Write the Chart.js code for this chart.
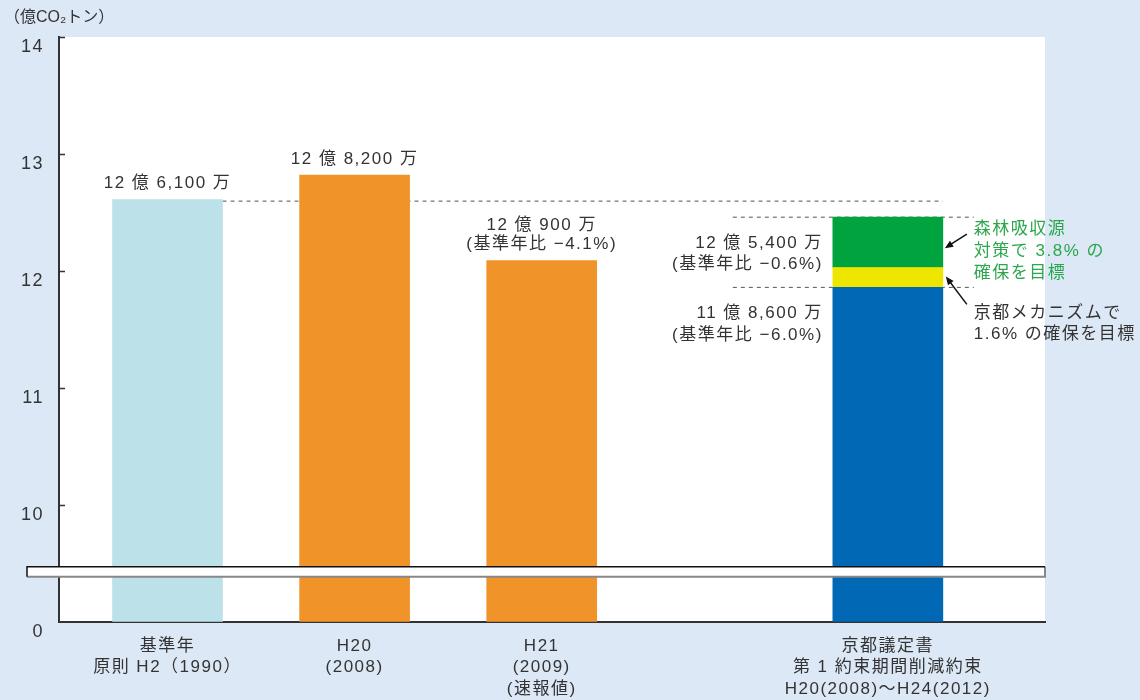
<!DOCTYPE html>
<html lang="ja">
<head>
<meta charset="utf-8">
<script src="https://cdn.jsdelivr.net/npm/chart.js@4.4.1/dist/chart.umd.min.js"></script>
<style>
    html, body { margin: 0; padding: 0; background: #dde8f6; }
    #wrap { width: 1140px; height: 700px; position: relative; }
</style>
</head>
<body>
<div id="wrap"><canvas id="co2-canvas"></canvas></div>
<script>
// data (億 CO2 トン)
const categories = [
    ["基準年", "原則 H2（1990）"],
    ["H20", "(2008)"],
    ["H21", "(2009)", "(速報値)"],
    ["京都議定書", "第 1 約束期間削減約束", "H20(2008)〜H24(2012)"]
];
const barPositions   = [1, 2, 3, 4.85];
const emissions      = [12.61, 12.82, 12.09, 11.86];
const mechanismShare = [null, null, null, 0.17];
const forestShare    = [null, null, null, 0.43];
const yTickValues    = [0, 10, 11, 12, 13, 14];
const barLabels      = [["12 億 6,100 万"], ["12 億 8,200 万"], ["12 億 900 万", "(基準年比 −4.1%)"]];
const targetLabel    = ["12 億 5,400 万", "(基準年比 −0.6%)"];
const kyotoLabel     = ["11 億 8,600 万", "(基準年比 −6.0%)"];
const forestNote     = ["森林吸収源", "対策で 3.8% の", "確保を目標"];
const mechanismNote  = ["京都メカニズムで", "1.6% の確保を目標"];
const unitLabel      = "（億CO₂トン）";

const FONT = "'Liberation Sans', 'Noto Sans CJK JP', sans-serif";
const TEXT = "#333333";
const SPACING = "1.5px";
const barColors = ["#bde1e8", "#f0942a", "#f0942a", "#0068b4"];

// axis is broken between 0 and 10: 0-10 squeezed into one unit
function squeeze(v) {
    if (v === null) return null;
    return v >= 10 ? v - 9 : v / 10;
}

const toPoints = (arr, fn) => barPositions.map((x, i) => ({ x: x, y: arr[i] === null ? null : fn(arr[i]) }));

// wider tracking like the original typesetting
const tracking = {
    id: "tracking",
    beforeLayout(chart) { chart.ctx.letterSpacing = SPACING; },
    beforeDraw(chart) { chart.ctx.letterSpacing = SPACING; }
};

const decorations = {
    id: "decorations",
    beforeDatasetsDraw(chart) {
        const ctx = chart.ctx;
        const xs = chart.scales.x, ys = chart.scales.y;
        const half = 55;
        const baseX = xs.getPixelForValue(barPositions[0]);
        const kyX = xs.getPixelForValue(barPositions[3]);
        const baseY = ys.getPixelForValue(squeeze(emissions[0]));
        const blueTop = ys.getPixelForValue(squeeze(emissions[3]));
        const greenTop = ys.getPixelForValue(squeeze(emissions[3]) + mechanismShare[3] + forestShare[3]);

        ctx.save();
        ctx.strokeStyle = "#555";
        ctx.lineWidth = 1;
        ctx.setLineDash([4, 4]);
        ctx.beginPath();
        ctx.moveTo(baseX + half, baseY + 1.5); ctx.lineTo(kyX + half, baseY + 1.5);
        ctx.moveTo(kyX - half - 100, greenTop); ctx.lineTo(kyX + half + 31, greenTop);
        ctx.moveTo(kyX - half - 100, blueTop); ctx.lineTo(kyX + half + 31, blueTop);
        ctx.stroke();
        ctx.restore();
    },
    afterDraw(chart) {
        const ctx = chart.ctx;
        const xs = chart.scales.x, ys = chart.scales.y;
        const area = chart.chartArea;
        const half = 55;

        ctx.save();
        // inner tick marks
        ctx.strokeStyle = "#333";
        ctx.lineWidth = 1.5;
        ctx.beginPath();
        yTickValues.slice(1).forEach(v => {
            const y = Math.round(ys.getPixelForValue(squeeze(v))) + 0.5;
            ctx.moveTo(area.left, y); ctx.lineTo(area.left + 6, y);
        });
        ctx.stroke();

        // axis break band
        const by = ys.getPixelForValue(0.43);
        ctx.fillStyle = "#ffffff";
        ctx.fillRect(area.left - 32, by - 5, area.right - area.left + 32, 10);
        ctx.strokeStyle = "#888";
        ctx.lineWidth = 2;
        ctx.beginPath();
        ctx.moveTo(area.left - 32, by + 5); ctx.lineTo(area.right, by + 5); ctx.lineTo(area.right, by - 5);
        ctx.stroke();
        ctx.strokeStyle = "#111";
        ctx.lineWidth = 1.5;
        ctx.beginPath();
        ctx.moveTo(area.left - 32, by + 5); ctx.lineTo(area.left - 32, by - 5); ctx.lineTo(area.right, by - 5);
        ctx.stroke();

        // value labels over bars
        ctx.font = "17px " + FONT;
        ctx.letterSpacing = SPACING;
        ctx.fillStyle = TEXT;
        ctx.textBaseline = "middle";
        ctx.textAlign = "center";
        barLabels.forEach((lines, i) => {
            const x = xs.getPixelForValue(barPositions[i]);
            const top = ys.getPixelForValue(squeeze(emissions[i]));
            lines.forEach((t, j) => {
                ctx.fillText(t, x, top - 16 - (lines.length - 1 - j) * 19);
            });
        });

        // kyoto side labels
        const kyX = xs.getPixelForValue(barPositions[3]);
        const blueTop = ys.getPixelForValue(squeeze(emissions[3]));
        const yellowTop = ys.getPixelForValue(squeeze(emissions[3]) + mechanismShare[3]);
        const greenTop = ys.getPixelForValue(squeeze(emissions[3]) + mechanismShare[3] + forestShare[3]);
        ctx.textAlign = "right";
        targetLabel.forEach((t, j) => ctx.fillText(t, kyX - half - 10, greenTop + 26 + j * 21));
        kyotoLabel.forEach((t, j) => ctx.fillText(t, kyX - half - 10, blueTop + 26 + j * 22));

        ctx.textAlign = "left";
        ctx.fillStyle = "#2aa74b";
        forestNote.forEach((t, j) => ctx.fillText(t, kyX + half + 31, greenTop + 12 + j * 22));
        ctx.fillStyle = TEXT;
        mechanismNote.forEach((t, j) => ctx.fillText(t, kyX + half + 31, blueTop + 26 + j * 21));

        // arrows
        function arrow(x1, y1, x2, y2) {
            const a = Math.atan2(y2 - y1, x2 - x1);
            ctx.strokeStyle = "#111";
            ctx.fillStyle = "#111";
            ctx.lineWidth = 1.5;
            ctx.beginPath();
            ctx.moveTo(x1, y1); ctx.lineTo(x2 - 6 * Math.cos(a), y2 - 6 * Math.sin(a));
            ctx.stroke();
            ctx.beginPath();
            ctx.moveTo(x2, y2);
            ctx.lineTo(x2 - 9 * Math.cos(a - 0.4), y2 - 9 * Math.sin(a - 0.4));
            ctx.lineTo(x2 - 9 * Math.cos(a + 0.4), y2 - 9 * Math.sin(a + 0.4));
            ctx.closePath();
            ctx.fill();
        }
        arrow(kyX + half + 24, greenTop + 17, kyX + half + 2, greenTop + 31);
        arrow(kyX + half + 24, blueTop + 17, kyX + half + 3, (yellowTop + blueTop) / 2 - 1);

        // unit
        ctx.font = "16px " + FONT;
        ctx.letterSpacing = "0px";
        ctx.fillStyle = TEXT;
        ctx.fillText(unitLabel, 4, 18);
        ctx.restore();
    }
};

const plotBackground = {
    id: "plotBackground",
    beforeDraw(chart) {
        const a = chart.chartArea;
        chart.ctx.save();
        chart.ctx.fillStyle = "#ffffff";
        chart.ctx.fillRect(a.left, a.top, a.right - a.left, a.bottom - a.top);
        chart.ctx.restore();
    }
};

const ctx = document.getElementById("co2-canvas").getContext("2d");
const co2_chart = new Chart(ctx, {
    type: "bar",
    data: {
        datasets: [
            {
                label: "排出量",
                data: toPoints(emissions, squeeze),
                backgroundColor: barColors,
                stack: "s"
            },
            {
                label: "京都メカニズム",
                data: toPoints(mechanismShare, v => v),
                backgroundColor: "#eee600",
                stack: "s"
            },
            {
                label: "森林吸収源対策",
                data: toPoints(forestShare, v => v),
                backgroundColor: "#00a33e",
                stack: "s"
            }
        ]
    },
    options: {
        responsive: true,
        maintainAspectRatio: false,
        animation: false,
        barThickness: 110,
        layout: { padding: { left: 0, top: 37, right: 95, bottom: 0 } },
        plugins: {
            legend: { display: false },
            tooltip: { enabled: false }
        },
        scales: {
            x: {
                type: "linear",
                min: 0.42,
                max: 5.69,
                offset: false,
                stacked: true,
                afterBuildTicks: scale => { scale.ticks = barPositions.map(v => ({ value: v })); },
                afterFit: scale => { scale.height = 78; },
                grid: { drawOnChartArea: false, drawTicks: false, offset: false },
                border: { color: "#333", width: 2 },
                ticks: {
                    autoSkip: false,
                    maxRotation: 0,
                    padding: 13,
                    color: TEXT,
                    font: { family: FONT, size: 17, lineHeight: 1.28 },
                    callback: (value, index) => categories[index]
                }
            },
            y: {
                min: 0,
                max: 5,
                stacked: true,
                afterFit: scale => { scale.width = 59; },
                grid: { drawOnChartArea: false, drawTicks: false },
                border: { color: "#333", width: 2 },
                ticks: {
                    stepSize: 1,
                    padding: 15,
                    labelOffset: 10,
                    color: TEXT,
                    font: { family: FONT, size: 18 },
                    callback: (value, index) => String(yTickValues[index])
                }
            }
        }
    },
    plugins: [tracking, plotBackground, decorations]
});
</script>
</body>
</html>
